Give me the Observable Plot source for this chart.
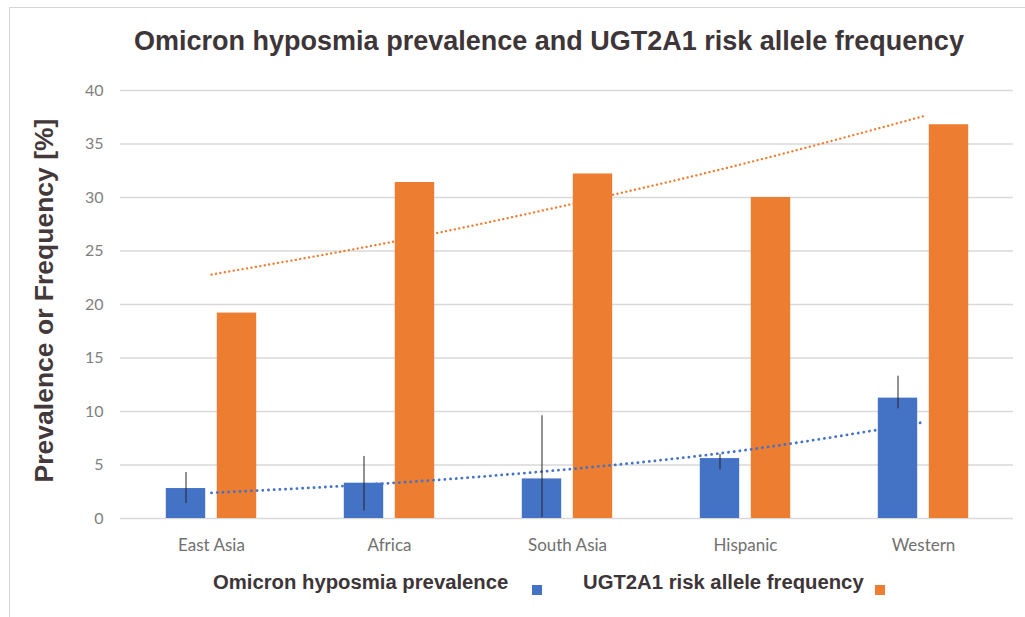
<!DOCTYPE html>
<html>
<head>
<meta charset="utf-8">
<script src="https://cdn.jsdelivr.net/npm/d3@7"></script>
<script src="https://cdn.jsdelivr.net/npm/@observablehq/plot@0.6"></script>
<style>
  html, body { margin: 0; padding: 0; background: #fff; }
  #wrap { position: relative; width: 1025px; height: 617px; overflow: hidden; background: #fff; }
  #frame { position: absolute; left: 9px; top: 7px; right: -2px; bottom: -2px; border-left: 1px solid #d4d4d4; border-top: 1px solid #d4d4d4; }
  #title { position: absolute; left: 0; width: 1098px; top: 26px; text-align: center; font-family: "Liberation Sans", Arial, sans-serif; font-weight: bold; font-size: 27px; color: #3d3537; white-space: nowrap; }
  #chart { position: absolute; left: 0; top: 70px; }
  .leg { position: absolute; top: 571px; font-family: "Liberation Sans", Arial, sans-serif; font-weight: bold; font-size: 20.3px; color: #3d3537; white-space: nowrap; }
  .sw { position: absolute; top: 585px; width: 10px; height: 10px; }
</style>
</head>
<body>
<div id="wrap">
  <div id="frame"></div>
  <div id="title"></div>
  <div id="chart"></div>
  <div id="leg1" class="leg" style="left:213px"></div>
  <div id="sw1" class="sw" style="left:532px"></div>
  <div id="leg2" class="leg" style="left:583px"></div>
  <div id="sw2" class="sw" style="left:875px"></div>
</div>
<script>
const title = "Omicron hyposmia prevalence and UGT2A1 risk allele frequency";
const yLabel = "Prevalence or Frequency [%]";
const seriesNames = ["Omicron hyposmia prevalence", "UGT2A1 risk allele frequency"];
const seriesColors = ["#4472C4", "#ED7D31"];

const categories = ["East Asia", "Africa", "South Asia", "Hispanic", "Western"];
const prevalence = [2.8, 3.3, 3.7, 5.6, 11.25];
const prevalenceLow = [1.4, 0.7, 0.1, 4.55, 10.25];
const prevalenceHigh = [4.3, 5.8, 9.6, 6.0, 13.3];
const frequency = [19.2, 31.4, 32.2, 30.0, 36.8];
const prevalenceTrend = [2.4, 3.3, 4.6, 6.4, 9.0];
const frequencyTrend = [22.8, 25.8, 29.3, 33.2, 37.6];
const yTicks = [0, 5, 10, 15, 20, 25, 30, 35, 40];

const rows = categories.map((c, i) => ({
  category: c,
  prevalence: prevalence[i],
  lo: prevalenceLow[i],
  hi: prevalenceHigh[i],
  frequency: frequency[i],
  pTrend: prevalenceTrend[i],
  fTrend: frequencyTrend[i]
}));

const W = 1025, H = 490, ML = 120, MR = 12, MT = 20, MB = 42;
const bw = (W - ML - MR) / categories.length;
const barW = 40, gap = 11;
const half = gap / 2;

const chart = Plot.plot({
  width: W,
  height: H,
  marginLeft: ML,
  marginRight: MR,
  marginTop: MT,
  marginBottom: MB,
  style: { background: "transparent", overflow: "visible" },
  x: { domain: categories, padding: 0, label: null },
  y: { domain: [0, 40], label: null },
  marks: [
    Plot.gridY(yTicks, { stroke: "#d9d9d9", strokeOpacity: 1, strokeWidth: 1.4 }),
    Plot.axisY(yTicks, { tickSize: 0, tickPadding: 17, fontSize: 16, fontFamily: "Lato, 'Open Sans', sans-serif", fill: "#7f7f7f", label: null }),
    Plot.axisX({ tickSize: 0, tickPadding: 20, fontSize: 17, fontFamily: "Lato, 'Open Sans', sans-serif", fill: "#707070", label: null }),
    Plot.text([yLabel], { frameAnchor: "left", dx: -76, dy: -4, rotate: -90, textAnchor: "middle", fontSize: 26.5, fontWeight: "bold", fontFamily: "'Liberation Sans', Arial, sans-serif", fill: "#43383a" }),
    Plot.barY(rows, { x: "category", y: "frequency", fill: seriesColors[1], insetLeft: bw / 2 + half, insetRight: bw / 2 - half - barW }),
    Plot.line(rows, { x: "category", y: "pTrend", curve: "natural", stroke: seriesColors[0], strokeWidth: 2.8, strokeDasharray: "0.1,5.6", strokeLinecap: "round" }),
    Plot.barY(rows, { x: "category", y: "prevalence", fill: seriesColors[0], insetLeft: bw / 2 - half - barW, insetRight: bw / 2 + half }),
    Plot.line(rows, { x: "category", y: "fTrend", curve: "natural", stroke: seriesColors[1], strokeWidth: 2.3, strokeDasharray: "0.1,4.4", strokeLinecap: "round" }),
    Plot.ruleX(rows, { x: "category", y1: "lo", y2: "hi", dx: -(half + barW / 2), stroke: "#222", strokeWidth: 1 })
  ]
});

document.getElementById("chart").appendChild(chart);
document.getElementById("title").textContent = title;
document.getElementById("leg1").textContent = seriesNames[0];
document.getElementById("leg2").textContent = seriesNames[1];
document.getElementById("sw1").style.background = seriesColors[0];
document.getElementById("sw2").style.background = seriesColors[1];
</script>
</body>
</html>
